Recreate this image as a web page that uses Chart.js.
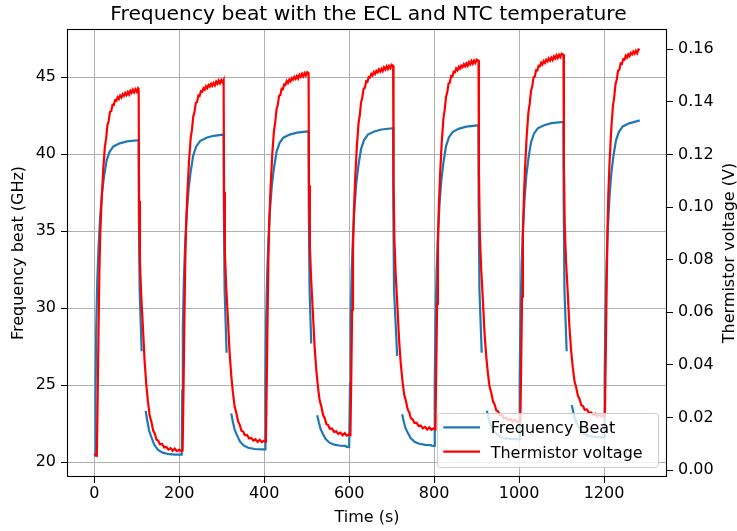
<!DOCTYPE html>
<html>
<head>
<meta charset="utf-8">
<script src="https://cdn.jsdelivr.net/npm/chart.js@4/dist/chart.umd.min.js"></script>
<style>
  html, body { margin: 0; padding: 0; background: #ffffff; }
  #c { display: block; }
</style>
</head>
<body>
<canvas id="c" width="737" height="531"></canvas>
<script>
// ---------- text ----------
const chartTitle = 'Frequency beat with the ECL and NTC temperature';
const xLabel = 'Time (s)';
const yLeftLabel = 'Frequency beat (GHz)';
const yRightLabel = 'Thermistor voltage (V)';
const seriesNames = ['Frequency Beat', 'Thermistor voltage'];

// ---------- tick labels ----------
const timeTicks = [0, 200, 400, 600, 800, 1000, 1200];
const beatTicks = [20, 25, 30, 35, 40, 45];
const voltTicks = [0.00, 0.02, 0.04, 0.06, 0.08, 0.10, 0.12, 0.14, 0.16];

// ---------- series: frequency beat (GHz), null = gap in the record ----------
const beatTime = [
  0,1,2,3,4.5,7,10,14,18,23,29,36,45,60,77,104.5,105,106.8,111.5,116,121,125,129,134,141,150,161,176,191,204,
  206,207,208.5,211,214,218,222,227,233,240,249,264,281,304.5,305,306.8,311.5,317,322.4,326.4,330.4,335.4,342.4,351.4,362.4,377.4,392.4,401,
  402,403,404.5,407,410,414,418,423,429,436,445,460,477,504.5,505,506.8,510.7,517,524.7,528.7,532.7,537.7,544.7,553.7,564.7,579.7,592,594,600,
  601,602,603.5,606,609,613,617,622,628,635,644,659,676,703.5,704,705.6,713,718,724.7,728.7,732.7,737.7,744.7,753.7,764.7,779.7,792,794,800,
  801,802,803.5,806,809,813,817,822,828,835,844,859,876,904.4,904.9,906.7,912,918,924,928,932,937,944,953,964,979,992,1000,
  1001,1002,1003.5,1006,1009,1013,1017,1022,1028,1035,1044,1059,1076,1104.5,1105,1106.8,1112,1118,1124,1128,1132,1137,1144,1153,1164,1179,1192,1200,
  1201,1202,1203.5,1206,1209,1213,1217,1222,1228,1235,1244,1259,1276,1284
];
const beatGHz = [
  20.41,20.41,20.41,24.51,28.61,31.69,33.95,36.0,37.43,38.56,39.59,40.16,40.51,40.71,40.84,40.92,35.9,31.2,27.2,null,23.33,22.65,22.05,21.65,21.14,20.79,20.61,20.51,20.49,20.48,
  20.48,24.64,28.80,31.92,34.21,36.29,37.74,38.89,39.93,40.51,40.86,41.07,41.20,41.28,36.3,31.2,27.1,null,23.16,22.60,22.11,21.78,21.36,21.08,20.93,20.85,20.83,20.82,
  20.82,24.95,29.09,32.19,34.46,36.53,37.98,39.11,40.15,40.73,41.08,41.28,41.41,41.49,36.5,31.2,27.7,null,23.05,22.57,22.15,21.86,21.50,21.26,21.13,21.06,21.05,20.99,20.98,
  20.98,25.12,29.26,32.37,34.65,36.72,38.17,39.31,40.34,40.92,41.28,41.48,41.61,41.69,36.7,31.2,26.9,null,23.1,22.62,22.2,21.92,21.56,21.32,21.19,21.12,21.1,21.06,21.05,
  21.05,25.22,29.38,32.51,34.80,36.88,38.34,39.48,40.53,41.11,41.46,41.67,41.80,41.88,36.9,31.2,27.1,null,23.33,22.89,22.50,22.24,21.91,21.68,21.56,21.50,21.49,21.48,
  21.48,25.6,29.74,32.83,35.1,37.16,38.6,39.73,40.76,41.34,41.69,41.89,42.02,42.1,37.1,31.2,27.2,null,23.7,23.20,22.76,22.46,22.08,21.83,21.70,21.63,21.61,21.6,
  21.6,25.73,29.86,32.95,35.22,37.29,38.73,39.86,40.89,41.46,41.81,42.01,42.14,42.2
];

// ---------- series: thermistor voltage (V) ----------
const voltTime = [
  0,3,
  6,8,10,12,14,17,21,25,28,31,34,37,40,43,46,49,52,55,58,61,64,67,70,73,76,79,82,85,88,91,94,97,100,103,104.5,
  105.5,107.5,110.5,114.5,118.5,122.5,126.5,130.5,134.5,138.5,142.5,146.5,150.5,154.5,159.5,164.5,169.5,174.5,179.5,184.5,189.5,194.5,199.5,204,
  208,210,212,214,216,219,223,227,230,233,236,239,242,245,248,251,254,257,260,263,266,269,272,275,278,281,284,287,290,293,296,299,302,304.5,
  305.5,307.5,310.5,314.5,318.5,322.5,326.5,330.5,334.5,338.5,342.5,346.5,350.5,354.5,359.5,364.5,369.5,374.5,379.5,384.5,389.5,394.5,399.5,
  404,406,408,410,412,415,419,423,426,429,432,435,438,441,444,447,450,453,456,459,462,465,468,471,474,477,480,483,486,489,492,495,498,501,504.5,
  505.5,507.5,510.5,514.5,518.5,522.5,526.5,530.5,534.5,538.5,542.5,546.5,550.5,554.5,559.5,564.5,569.5,574.5,579.5,584.5,589.5,594.5,599.5,
  603,605,607,609,611,614,618,622,625,628,631,634,637,640,643,646,649,652,655,658,661,664,667,670,673,676,679,682,685,688,691,694,697,700,703.5,
  704.5,706.5,709.5,713.5,717.5,721.5,725.5,729.5,733.5,737.5,741.5,745.5,749.5,753.5,758.5,763.5,768.5,773.5,778.5,783.5,788.5,793.5,798.5,
  803,805,807,809,811,814,818,822,825,828,831,834,837,840,843,846,849,852,855,858,861,864,867,870,873,876,879,882,885,888,891,894,897,900,904.5,
  905.5,907.5,910.5,914.5,918.5,922.5,926.5,930.5,934.5,938.5,942.5,946.5,950.5,954.5,959.5,964.5,969.5,974.5,979.5,984.5,989.5,994.5,999.5,
  1003,1005,1007,1009,1011,1014,1018,1022,1025,1028,1031,1034,1037,1040,1043,1046,1049,1052,1055,1058,1061,1064,1067,1070,1073,1076,1079,1082,1085,1088,1091,1094,1097,1100,1104.5,
  1105.5,1107.5,1110.5,1114.5,1118.5,1122.5,1126.5,1130.5,1134.5,1138.5,1142.5,1146.5,1150.5,1154.5,1159.5,1164.5,1169.5,1174.5,1179.5,1184.5,1189.5,1194.5,1199.5,
  1202,1204,1206,1208,1210,1213,1217,1221,1224,1227,1230,1233,1236,1239,1242,1245,1248,1251,1254,1257,1260,1263,1266,1269,1272,1275,1278,1281,1284
];
const voltV = [
  0.0061,0.0057,
  0.0055,0.0278,0.0529,0.0752,0.0891,0.1016,0.1142,0.1230,0.1262,0.1311,0.1328,0.1362,0.1365,0.1389,0.1388,0.1406,0.1404,0.1418,0.1411,0.1424,0.1417,0.1429,0.1423,0.1434,0.1426,0.1437,0.1428,0.1442,0.1434,0.1446,0.1436,0.1448,0.1439,0.1452,0.1448,
  0.1024,0.0794,0.0664,0.0544,0.0414,0.0324,0.0258,0.0206,0.0183,0.0151,0.0138,0.0115,0.0112,0.0098,0.0099,0.0086,0.0088,0.0078,0.0083,0.0073,0.0081,0.0072,0.0077,0.0073,
  0.0074,0.0299,0.0553,0.0779,0.0919,0.1046,0.1173,0.1263,0.1295,0.1344,0.1362,0.1396,0.1399,0.1424,0.1422,0.1440,0.1438,0.1452,0.1446,0.1459,0.1452,0.1464,0.1458,0.1469,0.1461,0.1472,0.1463,0.1477,0.1469,0.1481,0.1471,0.1483,0.1474,0.1483,
  0.1058,0.0828,0.0698,0.0578,0.0448,0.0358,0.0292,0.0240,0.0217,0.0185,0.0172,0.0149,0.0146,0.0132,0.0133,0.0120,0.0122,0.0112,0.0117,0.0107,0.0115,0.0106,0.0111,
  0.0108,0.0332,0.0584,0.0809,0.0949,0.1075,0.1201,0.1290,0.1322,0.1371,0.1389,0.1423,0.1426,0.1450,0.1448,0.1466,0.1464,0.1479,0.1472,0.1485,0.1478,0.1490,0.1484,0.1495,0.1487,0.1498,0.1489,0.1503,0.1495,0.1507,0.1497,0.1509,0.1500,0.1513,0.1509,
  0.1083,0.0853,0.0723,0.0603,0.0473,0.0383,0.0317,0.0265,0.0242,0.0210,0.0197,0.0174,0.0171,0.0157,0.0158,0.0145,0.0147,0.0137,0.0142,0.0132,0.0140,0.0131,0.0136,
  0.0133,0.0358,0.0610,0.0835,0.0975,0.1102,0.1228,0.1317,0.1349,0.1398,0.1416,0.1450,0.1453,0.1478,0.1476,0.1494,0.1492,0.1506,0.1500,0.1513,0.1506,0.1518,0.1512,0.1523,0.1515,0.1526,0.1517,0.1531,0.1523,0.1535,0.1525,0.1537,0.1528,0.1541,0.1537,
  0.1105,0.0875,0.0745,0.0625,0.0495,0.0405,0.0339,0.0287,0.0264,0.0232,0.0219,0.0196,0.0193,0.0179,0.0180,0.0167,0.0169,0.0159,0.0164,0.0154,0.0162,0.0153,0.0158,
  0.0155,0.0379,0.0632,0.0856,0.0996,0.1122,0.1249,0.1338,0.1370,0.1419,0.1437,0.1470,0.1473,0.1498,0.1496,0.1514,0.1512,0.1527,0.1520,0.1533,0.1526,0.1538,0.1532,0.1543,0.1535,0.1546,0.1537,0.1551,0.1543,0.1555,0.1545,0.1557,0.1548,0.1561,0.1557,
  0.1135,0.0905,0.0775,0.0655,0.0525,0.0435,0.0369,0.0317,0.0294,0.0262,0.0249,0.0226,0.0223,0.0209,0.0210,0.0197,0.0199,0.0189,0.0194,0.0184,0.0192,0.0183,0.0188,
  0.0185,0.0408,0.0659,0.0882,0.1021,0.1147,0.1272,0.1361,0.1393,0.1441,0.1459,0.1493,0.1496,0.1520,0.1519,0.1537,0.1535,0.1549,0.1542,0.1555,0.1548,0.1560,0.1554,0.1565,0.1557,0.1568,0.1559,0.1573,0.1565,0.1577,0.1567,0.1579,0.1570,0.1583,0.1579,
  0.1155,0.0925,0.0795,0.0675,0.0545,0.0455,0.0389,0.0337,0.0314,0.0282,0.0269,0.0246,0.0243,0.0229,0.0230,0.0217,0.0219,0.0209,0.0214,0.0204,0.0212,0.0203,0.0208,
  0.0205,0.0429,0.0681,0.0905,0.1045,0.1171,0.1297,0.1386,0.1418,0.1467,0.1485,0.1519,0.1522,0.1546,0.1544,0.1562,0.1560,0.1575,0.1568,0.1581,0.1574,0.1586,0.1580,0.1591,0.1583,0.1594,0.1585,0.1599,0.1597
];

// ---------- styling ----------
const FONT = "'DejaVu Sans', 'Liberation Sans', sans-serif";
const BLUE = '#1f77b4';
const RED = '#ff0000';
const GRID = '#b0b0b0';

const beatPoints = beatTime.map((t, i) => ({ x: t, y: beatGHz[i] }));
const voltPoints = voltTime.map((t, i) => ({ x: t, y: voltV[i] }));

const decorPlugin = {
  id: 'decor',
  afterDatasetsDraw(chart) {
    const ctx = chart.ctx;
    const a = chart.chartArea;
    ctx.save();
    // axes frame
    ctx.strokeStyle = '#000';
    ctx.lineWidth = 1.1;
    ctx.strokeRect(a.left + 0.5, a.top + 0.5, a.right - a.left - 1, a.bottom - a.top - 1);

    // legend (lower right, inside axes)
    const lx = 437.5, ly = 413.5, lw = 221, lh = 54, r = 3;
    ctx.beginPath();
    ctx.moveTo(lx + r, ly);
    ctx.lineTo(lx + lw - r, ly);
    ctx.quadraticCurveTo(lx + lw, ly, lx + lw, ly + r);
    ctx.lineTo(lx + lw, ly + lh - r);
    ctx.quadraticCurveTo(lx + lw, ly + lh, lx + lw - r, ly + lh);
    ctx.lineTo(lx + r, ly + lh);
    ctx.quadraticCurveTo(lx, ly + lh, lx, ly + lh - r);
    ctx.lineTo(lx, ly + r);
    ctx.quadraticCurveTo(lx, ly, lx + r, ly);
    ctx.closePath();
    ctx.fillStyle = 'rgba(255,255,255,0.8)';
    ctx.fill();
    ctx.strokeStyle = '#cccccc';
    ctx.lineWidth = 1;
    ctx.stroke();

    const ds = chart.data.datasets;
    const rows = [427.3, 451.7];
    ctx.lineWidth = 2.2;
    ctx.font = '16px ' + FONT;
    ctx.textAlign = 'left';
    ctx.textBaseline = 'alphabetic';
    for (let i = 0; i < ds.length; i++) {
      ctx.strokeStyle = ds[i].borderColor;
      ctx.beginPath();
      ctx.moveTo(443.3, rows[i]);
      ctx.lineTo(480, rows[i]);
      ctx.stroke();
      ctx.fillStyle = '#000';
      ctx.fillText(ds[i].label, 490.7, rows[i] + 6);
    }
    ctx.restore();
  },
  afterDraw(chart) {
    const ctx = chart.ctx;
    const a = chart.chartArea;
    ctx.save();
    ctx.translate(734, (a.top + a.bottom) / 2);
    ctx.rotate(-Math.PI / 2);
    ctx.font = '16px ' + FONT;
    ctx.fillStyle = '#000';
    ctx.textAlign = 'center';
    ctx.textBaseline = 'alphabetic';
    ctx.fillText(yRightLabel, 0, 0);
    ctx.restore();
  }
};

const tickFont = { family: FONT, size: 16 };

new Chart(document.getElementById('c').getContext('2d'), {
  type: 'line',
  data: {
    datasets: [
      { label: seriesNames[0], data: beatPoints, yAxisID: 'y', borderColor: BLUE, backgroundColor: BLUE,
        borderWidth: 2.2, pointRadius: 0, tension: 0, spanGaps: false, order: 2, fill: false },
      { label: seriesNames[1], data: voltPoints, yAxisID: 'y2', borderColor: RED, backgroundColor: RED,
        borderWidth: 2.2, pointRadius: 0, tension: 0, spanGaps: false, order: 1, fill: false }
    ]
  },
  options: {
    responsive: false,
    animation: false,
    devicePixelRatio: 1,
    layout: { padding: 0 },
    events: [],
    plugins: {
      legend: { display: false },
      tooltip: { enabled: false },
      title: {
        display: true, text: chartTitle, color: '#000',
        font: { family: FONT, size: 20.3, weight: 'normal', lineHeight: 1.2 },
        padding: { top: 2.5, bottom: 2.14 }
      }
    },
    scales: {
      x: {
        type: 'linear', min: -64.2, max: 1348.2,
        afterBuildTicks: s => { s.ticks = timeTicks.map(v => ({ value: v })); },
        afterFit: s => { s.height = 54; },
        grid: { color: GRID, lineWidth: 1, drawTicks: true, tickLength: 6, tickColor: '#000', tickWidth: 1 },
        border: { display: false },
        ticks: { font: tickFont, color: '#000', padding: 1, maxRotation: 0, autoSkip: false, callback: v => String(v) },
        title: { display: true, text: xLabel, color: '#000', font: tickFont, padding: { top: 0, bottom: 3.5 } }
      },
      y: {
        type: 'linear', position: 'left', min: 19.03, max: 48.14,
        afterBuildTicks: s => { s.ticks = beatTicks.map(v => ({ value: v })); },
        afterFit: s => { s.width = 67; },
        grid: { color: GRID, lineWidth: 1, drawTicks: true, tickLength: 6, tickColor: '#000', tickWidth: 1 },
        border: { display: false },
        ticks: { font: tickFont, color: '#000', padding: 5, autoSkip: false, callback: v => String(v) },
        title: { display: true, text: yLeftLabel, color: '#000', font: tickFont, padding: { top: 9, bottom: 0 } }
      },
      y2: {
        type: 'linear', position: 'right', min: -0.00266, max: 0.1677,
        afterBuildTicks: s => { s.ticks = voltTicks.map(v => ({ value: v })); },
        afterFit: s => { s.width = 70; },
        grid: { drawOnChartArea: false, drawTicks: true, tickLength: 6, tickColor: '#000', tickWidth: 1 },
        border: { display: false },
        ticks: { font: tickFont, color: '#000', padding: 5, autoSkip: false, callback: v => Number(v).toFixed(2) },
        title: { display: false }
      }
    }
  },
  plugins: [decorPlugin]
});
</script>
</body>
</html>
